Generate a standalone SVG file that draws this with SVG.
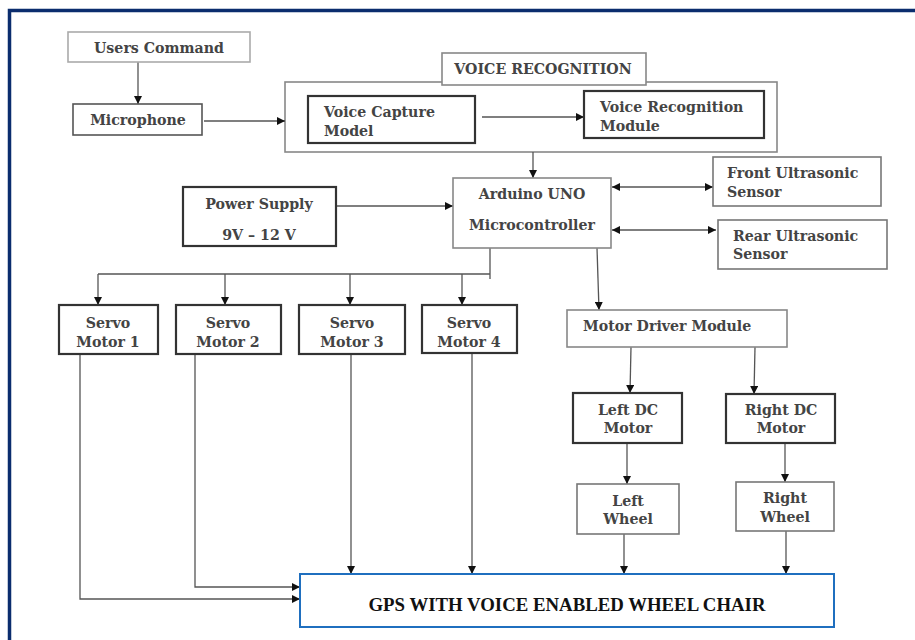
<svg xmlns="http://www.w3.org/2000/svg" width="915" height="640" viewBox="0 0 915 640">
<style>
.t{font-family:"DejaVu Serif","Liberation Serif",serif;font-size:14.2px;font-weight:bold;fill:#444}
.c{text-anchor:middle}
.lg{fill:#fff;stroke:#aaa;stroke-width:1.6}
.md{fill:#fff;stroke:#888;stroke-width:1.6}
.dk{fill:#fff;stroke:#333;stroke-width:2.2}
.ln{fill:none;stroke:#555;stroke-width:1.3}
</style>
<defs>
<marker id="ah" viewBox="0 0 10 10" refX="10" refY="5" markerWidth="9" markerHeight="8" markerUnits="userSpaceOnUse" orient="auto-start-reverse"><path d="M0,0 L10,5 L0,10 z" fill="#111"/></marker>
</defs>
<rect x="9.5" y="10.5" width="1000" height="1000" fill="#fff" stroke="#0b2d6e" stroke-width="3.5"/>
<g id="voice-recognition"><rect x="285" y="82" width="492" height="70" fill="none" stroke="#888" stroke-width="1.6"/><rect class="md" x="442" y="53" width="204" height="32"/><text class="t c" x="543" y="74">VOICE RECOGNITION</text></g>
<g id="connectors">
<path class="ln" d="M138,62 V104" marker-end="url(#ah)"/>
<path class="ln" d="M204,121 H285" marker-end="url(#ah)"/>
<path class="ln" d="M482,117 H584" marker-end="url(#ah)"/>
<path class="ln" d="M533,152 V178" marker-end="url(#ah)"/>
<path class="ln" d="M336,206 H453" marker-end="url(#ah)"/>
<path class="ln" d="M612,187 H713" marker-start="url(#ah)" marker-end="url(#ah)"/>
<path class="ln" d="M612,230 H716" marker-start="url(#ah)" marker-end="url(#ah)"/>
<path class="ln" d="M490,248 V279 M490,274 H98"/>
<path class="ln" d="M98,274 V305" marker-end="url(#ah)"/>
<path class="ln" d="M225,274 V305" marker-end="url(#ah)"/>
<path class="ln" d="M350,274 V305" marker-end="url(#ah)"/>
<path class="ln" d="M462,274 V305" marker-end="url(#ah)"/>
<path class="ln" d="M597,248 L599,310" marker-end="url(#ah)"/>
<path class="ln" d="M631,347 L630,393" marker-end="url(#ah)"/>
<path class="ln" d="M755,347 L754,394" marker-end="url(#ah)"/>
<path class="ln" d="M627,443 V484" marker-end="url(#ah)"/>
<path class="ln" d="M785,441 V482" marker-end="url(#ah)"/>
<path class="ln" d="M624,534 V574" marker-end="url(#ah)"/>
<path class="ln" d="M786,531 V574" marker-end="url(#ah)"/>
<path class="ln" d="M80,354 V599 H300" marker-end="url(#ah)"/>
<path class="ln" d="M195,354 V587 H300" marker-end="url(#ah)"/>
<path class="ln" d="M351,354 V574" marker-end="url(#ah)"/>
<path class="ln" d="M472,353 V574" marker-end="url(#ah)"/>
</g>
<g id="users-command"><rect class="lg" x="68" y="32" width="182" height="30"/><text class="t c" x="159" y="53">Users Command</text></g>
<g id="microphone"><rect fill="#fff" stroke="#555" stroke-width="1.6" x="73" y="104" width="129" height="31"/><text class="t c" x="138" y="125">Microphone</text></g>
<g id="voice-capture"><rect class="dk" x="308" y="96" width="167" height="47"/><text class="t" x="324" y="117">Voice Capture</text><text class="t" x="324" y="136">Model</text></g>
<g id="vr-module"><rect class="dk" x="584" y="91" width="180" height="47"/><text class="t" x="600" y="112">Voice Recognition</text><text class="t" x="600" y="131">Module</text></g>
<g id="arduino"><rect class="md" x="453" y="178" width="158" height="70"/><text class="t c" x="532" y="199">Arduino UNO</text><text class="t c" x="532" y="230">Microcontroller</text></g>
<g id="front-sensor"><rect fill="#fff" stroke="#777" stroke-width="1.6" x="713" y="157" width="168" height="49"/><text class="t" x="727" y="178">Front Ultrasonic</text><text class="t" x="727" y="197">Sensor</text></g>
<g id="rear-sensor"><rect fill="#fff" stroke="#777" stroke-width="1.6" x="718" y="220" width="169" height="49"/><text class="t" x="733" y="241">Rear Ultrasonic</text><text class="t" x="733" y="259">Sensor</text></g>
<g id="power-supply"><rect class="dk" x="183" y="187" width="153" height="59"/><text class="t c" x="259" y="209">Power Supply</text><text class="t c" x="259" y="240">9V – 12 V</text></g>
<g id="servo1"><rect class="dk" x="59" y="305" width="99" height="49"/><text class="t c" x="108" y="328">Servo</text><text class="t c" x="108" y="347">Motor 1</text></g>
<g id="servo2"><rect class="dk" x="176" y="305" width="105" height="49"/><text class="t c" x="228" y="328">Servo</text><text class="t c" x="228" y="347">Motor 2</text></g>
<g id="servo3"><rect class="dk" x="299" y="305" width="106" height="49"/><text class="t c" x="352" y="328">Servo</text><text class="t c" x="352" y="347">Motor 3</text></g>
<g id="servo4"><rect class="dk" x="422" y="305" width="95" height="48"/><text class="t c" x="469" y="328">Servo</text><text class="t c" x="469" y="347">Motor 4</text></g>
<g id="motor-driver"><rect class="md" x="567" y="310" width="220" height="37"/><text class="t" x="583" y="331">Motor Driver Module</text></g>
<g id="left-dc"><rect class="dk" x="573" y="393" width="109" height="50"/><text class="t c" x="628" y="415">Left DC</text><text class="t c" x="628" y="433">Motor</text></g>
<g id="right-dc"><rect class="dk" x="726" y="394" width="109" height="49"/><text class="t c" x="781" y="415">Right DC</text><text class="t c" x="781" y="433">Motor</text></g>
<g id="left-wheel"><rect fill="#fff" stroke="#777" stroke-width="1.6" x="577" y="484" width="102" height="50"/><text class="t c" x="628" y="506">Left</text><text class="t c" x="628" y="524">Wheel</text></g>
<g id="right-wheel"><rect fill="#fff" stroke="#777" stroke-width="1.6" x="736" y="482" width="98" height="49"/><text class="t c" x="785" y="503">Right</text><text class="t c" x="785" y="522">Wheel</text></g>
<g id="gps"><rect fill="#fff" stroke="#1f6fbf" stroke-width="2" x="300" y="574" width="534" height="53"/><text x="567" y="611" text-anchor="middle" font-family="Liberation Serif, serif" font-weight="bold" font-size="18" fill="#111" textLength="397" lengthAdjust="spacingAndGlyphs">GPS WITH VOICE ENABLED WHEEL CHAIR</text></g>
</svg>
